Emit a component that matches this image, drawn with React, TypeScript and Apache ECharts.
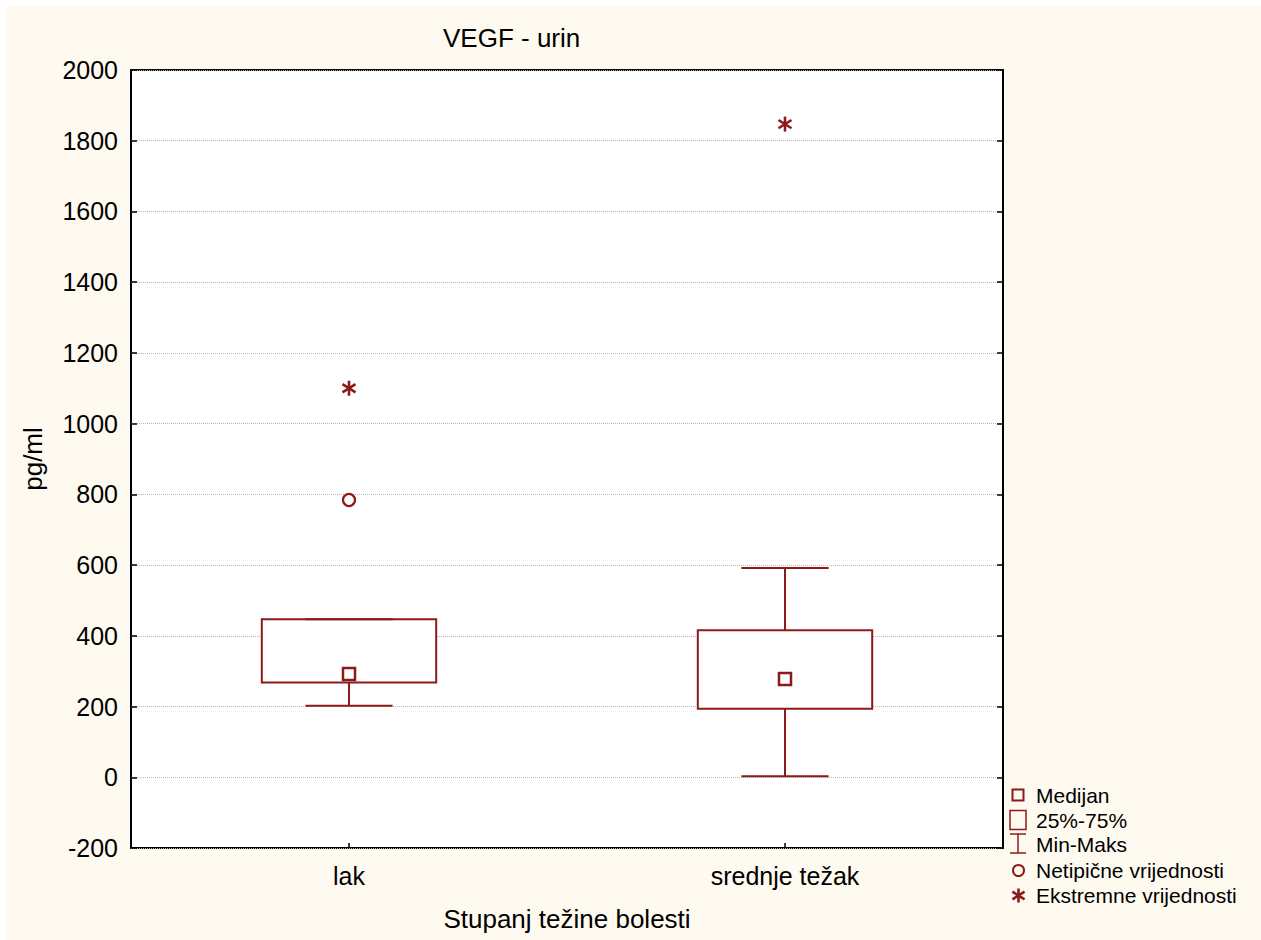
import React, { useEffect, useRef } from "react";
import * as echarts from "echarts";

const categories = ["lak", "srednje težak"];
const minValues = [202, 3];
const q1Values = [268, 194];
const medianValues = [292, 278];
const q3Values = [447, 416];
const maxValues = [447, 592];
const outlierPoints = [[0, 784]];
const extremePoints = [[0, 1100], [1, 1847]];
const yTicks = { min: -200, max: 2000, interval: 200 };
const legendLabels = ["Medijan", "25%-75%", "Min-Maks", "Netipične vrijednosti", "Ekstremne vrijednosti"];

const RED = "#8C1A1A";
const FONT = "Arial, 'Liberation Sans', sans-serif";

export default function App() {
  const ref = useRef<HTMLDivElement>(null);
  useEffect(() => {
    if (!ref.current) return;
    const chart = echarts.init(ref.current, null, { renderer: "svg" });
    const boxData = categories.map((_, i) => [i, minValues[i], q1Values[i], medianValues[i], q3Values[i], maxValues[i]]);

    const legendX = 1012;
    const textX = 1030;
    const rows = [789, 814, 838, 864.5, 889.5];
    const asterisk = (cx: number, cy: number, s: number) => [
      { type: "line", shape: { x1: cx, y1: cy - s, x2: cx, y2: cy + s }, style: { stroke: RED, lineWidth: 2.6 } },
      { type: "line", shape: { x1: cx - s * 0.87, y1: cy - s * 0.55, x2: cx + s * 0.87, y2: cy + s * 0.55 }, style: { stroke: RED, lineWidth: 2.6 } },
      { type: "line", shape: { x1: cx - s * 0.87, y1: cy + s * 0.55, x2: cx + s * 0.87, y2: cy - s * 0.55 }, style: { stroke: RED, lineWidth: 2.6 } },
    ];

    const option: any = {
      animation: false,
      backgroundColor: "#FFFAF0",
      textStyle: { fontFamily: FONT },
      grid: {
        left: 125, top: 64, width: 872, height: 778,
        show: true, backgroundColor: "#fff", borderColor: "#000", borderWidth: 2,
      },
      xAxis: {
        type: "category",
        data: categories,
        boundaryGap: true,
        name: "Stupanj težine bolesti",
        nameLocation: "middle",
        nameGap: 58,
        nameTextStyle: { fontSize: 26, color: "#000", fontFamily: FONT },
        axisLine: { show: false, onZero: false },
        axisTick: { show: true, inside: true, alignWithLabel: true, length: 5, lineStyle: { color: "#000", width: 1.5 } },
        axisLabel: { fontSize: 25, color: "#000", margin: 15, fontFamily: FONT },
        splitLine: { show: false },
      },
      yAxis: [
        {
          type: "value",
          min: yTicks.min, max: yTicks.max, interval: yTicks.interval,
          name: "pg/ml",
          nameLocation: "middle",
          nameGap: 85,
          nameTextStyle: { fontSize: 26, color: "#000", fontFamily: FONT },
          axisLine: { show: false },
          axisTick: { show: true, inside: true, length: 6, lineStyle: { color: "#000", width: 1.5 } },
          axisLabel: { fontSize: 25, color: "#000", margin: 13, fontFamily: FONT, formatter: (v: number) => String(v) },
          splitLine: { show: true, lineStyle: { color: "#b8b8b8", width: 1, type: [1, 1] } },
        },
        {
          type: "value",
          position: "right",
          min: yTicks.min, max: yTicks.max, interval: yTicks.interval,
          axisLine: { show: false },
          axisTick: { show: true, inside: true, length: 6, lineStyle: { color: "#000", width: 1.5 } },
          axisLabel: { show: false },
          splitLine: { show: false },
        },
      ],
      series: [
        {
          type: "custom",
          data: boxData,
          encode: { x: 0, y: [1, 2, 3, 4, 5] },
          z: 3,
          renderItem: (params: any, api: any) => {
            const x = api.value(0);
            const pMin = api.coord([x, api.value(1)]);
            const pQ1 = api.coord([x, api.value(2)]);
            const pMed = api.coord([x, api.value(3)]);
            const pQ3 = api.coord([x, api.value(4)]);
            const pMax = api.coord([x, api.value(5)]);
            const band = api.size([1, 0])[0];
            const hw = band * 0.2;
            const cw = band * 0.1;
            const cx = pMed[0];
            const st = { stroke: RED, lineWidth: 2, fill: "none" };
            const sq = 12;
            return {
              type: "group",
              children: [
                { type: "line", shape: { x1: cx, y1: pQ3[1], x2: cx, y2: pMax[1] }, style: st },
                { type: "line", shape: { x1: cx, y1: pQ1[1], x2: cx, y2: pMin[1] }, style: st },
                { type: "rect", shape: { x: cx - hw, y: pQ3[1], width: hw * 2, height: pQ1[1] - pQ3[1] }, style: { stroke: RED, lineWidth: 2, fill: "#fff" } },
                { type: "line", shape: { x1: cx - cw, y1: pMax[1], x2: cx + cw, y2: pMax[1] }, style: st },
                { type: "line", shape: { x1: cx - cw, y1: pMin[1], x2: cx + cw, y2: pMin[1] }, style: st },
                { type: "rect", shape: { x: cx - sq / 2, y: pMed[1] - sq / 2, width: sq, height: sq }, style: { stroke: RED, lineWidth: 2.5, fill: "#fff" } },
              ],
            };
          },
        },
        {
          type: "scatter",
          data: outlierPoints,
          symbol: "circle",
          symbolSize: 12,
          z: 4,
          itemStyle: { color: "#fff", borderColor: RED, borderWidth: 2.2, opacity: 1 },
        },
        {
          type: "custom",
          data: extremePoints,
          z: 4,
          renderItem: (params: any, api: any) => {
            const p = api.coord([api.value(0), api.value(1)]);
            return { type: "group", children: asterisk(p[0], p[1], 7.5) };
          },
        },
      ],
      graphic: [
        { type: "text", left: 437, top: 19, style: { text: "VEGF - urin", fontSize: 26, fill: "#000", fontFamily: FONT } },
        { type: "rect", shape: { x: legendX - 5.5, y: rows[0] - 5.5, width: 11, height: 11 }, style: { stroke: RED, lineWidth: 2, fill: "none" } },
        { type: "rect", shape: { x: legendX - 8, y: rows[1] - 9.5, width: 16, height: 19 }, style: { stroke: RED, lineWidth: 1.5, fill: "none" } },
        { type: "line", shape: { x1: legendX - 8, y1: rows[2] - 10, x2: legendX + 8, y2: rows[2] - 10 }, style: { stroke: RED, lineWidth: 1.5 } },
        { type: "line", shape: { x1: legendX - 8, y1: rows[2] + 9, x2: legendX + 8, y2: rows[2] + 9 }, style: { stroke: RED, lineWidth: 1.5 } },
        { type: "line", shape: { x1: legendX, y1: rows[2] - 10, x2: legendX, y2: rows[2] + 9 }, style: { stroke: RED, lineWidth: 1.5 } },
        { type: "circle", shape: { cx: legendX + 0.5, cy: rows[3], r: 5.5 }, style: { stroke: RED, lineWidth: 2, fill: "none" } },
        ...asterisk(legendX + 0.5, rows[4], 7),
        ...legendLabels.map((t, i) => ({
          type: "text",
          x: textX, y: rows[i],
          style: { text: t, fontSize: 21, fill: "#000", fontFamily: FONT, verticalAlign: "middle", align: "left" },
        })),
      ],
    };
    chart.setOption(option);
    return () => chart.dispose();
  }, []);

  return (
    <div style={{ position: "fixed", left: 0, top: 0, width: 1261, height: 940, background: "#fff" }}>
      <div ref={ref} style={{ position: "absolute", left: 6, top: 6, width: 1255, height: 934 }} />
    </div>
  );
}
